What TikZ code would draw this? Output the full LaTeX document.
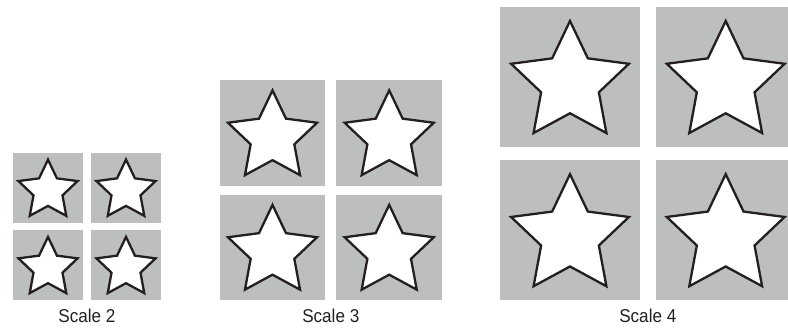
\documentclass[tikz,border=0pt]{standalone}
\usepackage{fontspec}
\setmainfont{Liberation Sans}[FakeStretch=0.92]
\usetikzlibrary{calc}
\definecolor{sqgrey}{RGB}{188,190,192}
\definecolor{starink}{RGB}{35,31,32}
\tikzset{
  sqbox/.style={draw=none,fill=sqgrey,inner sep=0pt,outer sep=0pt,minimum size=#1},
  starline/.style={draw=starink,fill=white,line width=2.3pt,line join=miter},
  caption/.style={anchor=base,inner sep=0pt,font=\fontsize{18.6}{20}\selectfont,text=starink}
}
\newcommand\boxstar[2]{% node name, square size
  \pgfmathsetmacro\Rout{0.444*#2}%
  \pgfmathsetmacro\Rin{0.49*\Rout}%
  \pgfmathsetmacro\Rdy{0.0955*\Rout}%
  \begin{scope}[shift={($(#1.center)+(0,\Rdy)$)}]
    \draw[starline] (-90:\Rout) -- (-54:\Rin) -- (-18:\Rout) -- (18:\Rin) -- (54:\Rout)
      -- (90:\Rin) -- (126:\Rout) -- (162:\Rin) -- (198:\Rout) -- (234:\Rin) -- cycle;
  \end{scope}}
\begin{document}
\begin{tikzpicture}[x=1pt,y=-1pt]
\useasboundingbox (0,0) rectangle (788,330);
% Scale 2
\node[sqbox=70pt] (a1) at (48,187.7) {};
\node[sqbox=70pt] (a2) at (126,187.7) {};
\node[sqbox=70pt] (a3) at (48,265) {};
\node[sqbox=70pt] (a4) at (126,265) {};
\foreach \n in {a1,a2,a3,a4} {\boxstar{\n}{70}}
\node[caption] (la) at (87,322.5) {Scale 2};
% Scale 3
\node[sqbox=105.5pt] (b1) at (272.5,132.75) {};
\node[sqbox=105.5pt] (b2) at (389.2,132.75) {};
\node[sqbox=105.5pt] (b3) at (272.5,247.25) {};
\node[sqbox=105.5pt] (b4) at (389.2,247.25) {};
\foreach \n in {b1,b2,b3,b4} {\boxstar{\n}{105.5}}
\node[caption] (lb) at (330.8,322.5) {Scale 3};
% Scale 4
\node[sqbox=139.5pt] (c1) at (570,77) {};
\node[sqbox=139.5pt] (c2) at (725.7,77) {};
\node[sqbox=139.5pt] (c3) at (570,230.2) {};
\node[sqbox=139.5pt] (c4) at (725.7,230.2) {};
\foreach \n in {c1,c2,c3,c4} {\boxstar{\n}{139.5}}
\node[caption] (lc) at (647.8,322.5) {Scale 4};
\end{tikzpicture}
\end{document}
